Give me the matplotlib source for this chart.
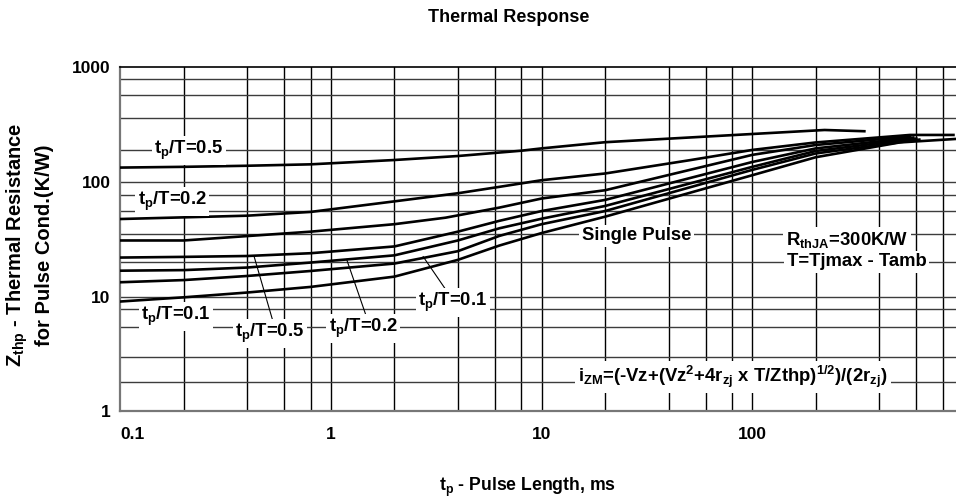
import numpy as np
import matplotlib
matplotlib.use("Agg")
import matplotlib.pyplot as plt

plt.rcParams['font.family'] = ['Liberation Sans', 'DejaVu Sans']
plt.rcParams['font.weight'] = 'bold'
plt.rcParams['mathtext.fontset'] = 'custom'
plt.rcParams['mathtext.rm'] = 'Liberation Sans:bold'
plt.rcParams['mathtext.it'] = 'Liberation Sans:bold'
plt.rcParams['mathtext.bf'] = 'Liberation Sans:bold'

x_05 = [0.1, 0.2, 0.4, 0.8, 2, 4, 8, 10, 20, 50, 100, 220, 340]
y_05 = [134, 136, 139, 143, 156, 169, 188, 197, 223, 245, 263, 285, 278]

x_02 = [0.1, 0.4, 0.8, 2, 4, 6.3, 10, 20, 50, 100, 200, 560, 900]
y_02 = [47.7, 51, 55, 68, 80, 91, 104, 119, 155, 191, 222, 258, 258]

x_01 = [0.1, 0.2, 0.8, 2, 3.5, 6.3, 10, 20, 100, 200, 560]
y_01 = [31, 31, 37, 43, 49, 60, 72, 85, 173, 211, 250]

x_mid = [0.1, 0.2, 0.4, 0.8, 2, 4, 6.3, 10, 20, 100, 200]
y_c4 = [22, 22.3, 22.7, 24, 27.5, 37, 46, 56, 70, 150, 197]
y_c5 = [16.9, 17.1, 18, 19.9, 23, 31, 39.6, 48, 62, 136, 187]
y_c6 = [13.4, 14, 15.2, 16.8, 19.5, 25, 34, 43, 56, 128, 178]
x_c4_end, y_c4_end = 580, 245
x_c5_end, y_c5_end = 600, 240
x_c6_end, y_c6_end = 620, 235

x_single = [0.1, 0.2, 0.4, 0.8, 2, 4, 6.3, 10, 20, 100, 200, 500, 920]
y_single = [9.1, 9.9, 10.9, 12.2, 15, 21, 28, 36, 50, 115, 165, 222, 238]

# rejilla (irregular, como en el escaneo)
grid_x = [0.2, 0.4, 0.6, 0.8, 1, 2, 4, 6, 8, 10, 20, 40, 60, 80, 100, 200, 400, 600, 800]
grid_y = [800, 570, 360, 190, 100, 77, 56, 35, 20, 10, 7.8, 5.5, 3, 1.8]

xticks = [0.1, 1, 10, 100]
xtick_labels = ['0.1', '1', '10', '100']
yticks = [1, 10, 100, 1000]
ytick_labels = ['1', '10', '100', '1000']

fig = plt.figure(figsize=(9.56, 4.98), dpi=100)
ax = fig.add_axes([0.1258, 0.1737, 0.8816, 0.6908])
ax.set_xscale('log')
ax.set_yscale('log')
ax.set_xlim(0.1, 1000)
ax.set_ylim(1, 1000)

for gx in grid_x:
    ax.axvline(gx, color='black', lw=1.0, zorder=1)
for gy in grid_y:
    ax.axhline(gy, color='#3c3c3c', lw=1.0, zorder=1)

lw = 1.9
ax.plot(x_05, y_05, color='black', lw=lw, zorder=3)
ax.plot(x_02, y_02, color='black', lw=lw, zorder=3)
ax.plot(x_01, y_01, color='black', lw=lw, zorder=3)
ax.plot(x_mid + [x_c4_end], y_c4 + [y_c4_end], color='black', lw=lw, zorder=3)
ax.plot(x_mid + [x_c5_end], y_c5 + [y_c5_end], color='black', lw=lw, zorder=3)
ax.plot(x_mid + [x_c6_end], y_c6 + [y_c6_end], color='black', lw=lw, zorder=3)
ax.plot(x_single, y_single, color='black', lw=lw, zorder=3)

box = dict(facecolor='white', edgecolor='none', pad=2.0)
fs = 13.3


def etiqueta(x, y, s, size=fs):
    ax.text(x, y, s, fontsize=size, fontweight='bold', ha='center', va='center',
            bbox=box, zorder=5)


etiqueta(0.212, 190, r't$_\mathrm{p}$/T=0.5')
etiqueta(0.176, 67.6, r't$_\mathrm{p}$/T=0.2')
etiqueta(0.184, 6.71, r't$_\mathrm{p}$/T=0.1')
etiqueta(0.513, 4.81, r't$_\mathrm{p}$/T=0.5')
etiqueta(1.419, 5.32, r't$_\mathrm{p}$/T=0.2')
etiqueta(3.79, 8.89, r't$_\mathrm{p}$/T=0.1')
etiqueta(28.2, 34, 'Single Pulse')
etiqueta(282, 31.3, r'R$_\mathrm{thJA}$=300K/W')
etiqueta(313, 20.2, 'T=Tjmax - Tamb')
etiqueta(80.9, 2.01, r'$\mathrm{i}_\mathrm{ZM}$=(-Vz+(Vz$^\mathrm{2}$+4r$_\mathrm{zj}$ x T/Zthp)$^\mathrm{1/2}$)/(2r$_\mathrm{zj}$)')

# lineas guia de las etiquetas
ax.plot([0.531, 0.432], [6.07, 22.4], color='black', lw=0.8, zorder=4)
ax.plot([1.486, 1.187], [6.41, 21.2], color='black', lw=0.8, zorder=4)
ax.plot([3.56, 2.74], [11.1, 22.4], color='black', lw=0.8, zorder=4)

ax.set_xticks(xticks)
ax.set_xticklabels(xtick_labels, fontsize=12.5, fontweight='bold')
ax.set_yticks(yticks)
ax.set_yticklabels(ytick_labels, fontsize=12.5, fontweight='bold')
ax.xaxis.set_minor_locator(matplotlib.ticker.NullLocator())
ax.yaxis.set_minor_locator(matplotlib.ticker.NullLocator())
ax.tick_params(axis='x', length=0, pad=11)
ax.tick_params(axis='y', length=0, pad=7)
ax.get_xticklabels()[0].set_horizontalalignment('left')

for side in ['left', 'bottom']:
    ax.spines[side].set_color('#777777')
    ax.spines[side].set_linewidth(1.6)
ax.spines['top'].set_color('black')
ax.spines['top'].set_linewidth(1.2)
ax.spines['right'].set_visible(False)

fig.text(509 / 956, 1 - 18 / 498, 'Thermal Response', fontsize=13, fontweight='bold',
         ha='center', va='center')
fig.text(527 / 956, 1 - 487 / 498, r't$_\mathrm{p}$ - Pulse Length, ms', fontsize=12.7,
         fontweight='bold', ha='center', va='center')
fig.text(17 / 956, 1 - 245 / 498, r'Z$_\mathrm{thp}$ - Thermal Resistance', fontsize=14.5,
         fontweight='bold', ha='center', va='center', rotation=90)
fig.text(45 / 956, 1 - 245 / 498, 'for Pulse Cond.(K/W)', fontsize=14.5,
         fontweight='bold', ha='center', va='center', rotation=90)

fig.savefig('out.png', dpi=100)
